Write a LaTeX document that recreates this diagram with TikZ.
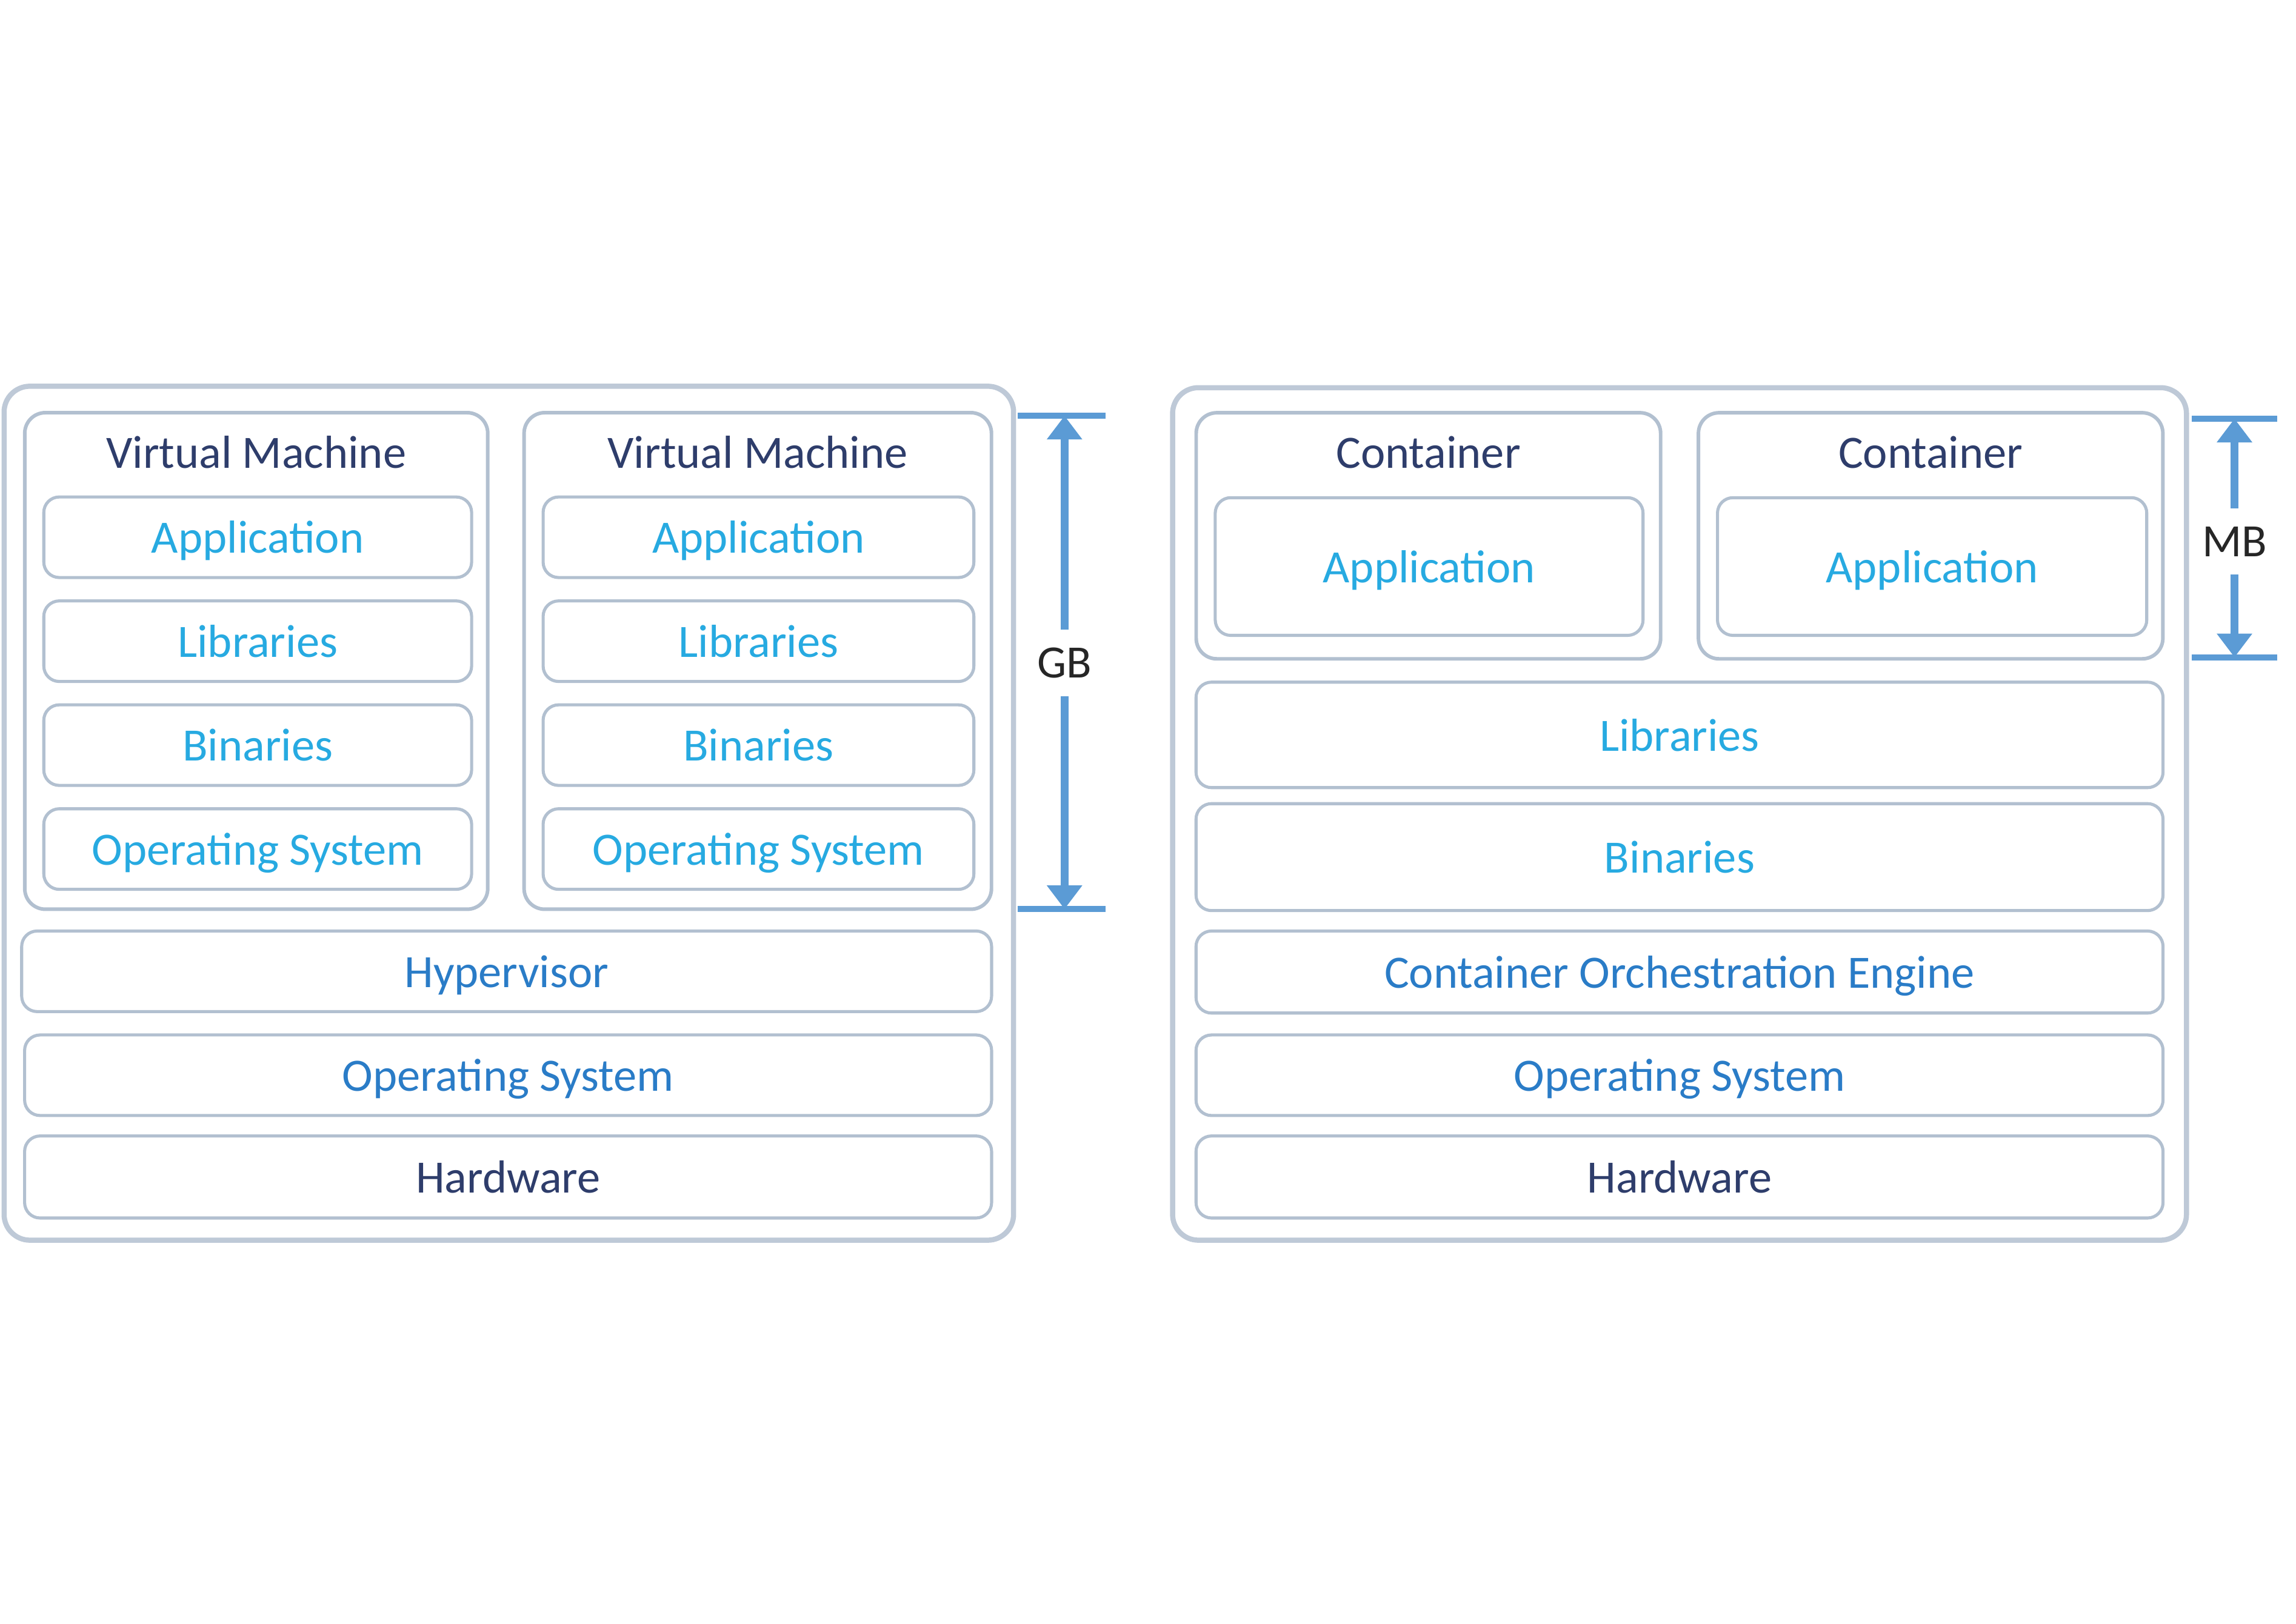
\documentclass[tikz,border=0pt]{standalone}
\usepackage{fontspec}
\setmainfont{Carlito}
\usepackage{xcolor}
\usepackage{tikz}
\usetikzlibrary{arrows.meta,positioning}

\begin{document}
\begin{tikzpicture}[x=0.01cm,y=-0.01cm,font=\fontsize{9}{11}\selectfont,
  frame/.style={draw=frame,line width=1pt,rounded corners=5pt,inner sep=0pt},
  stack/.style={draw=edge,line width=0.7pt,rounded corners=4pt,inner sep=0pt},
  layer/.style={draw=edge,line width=0.6pt,rounded corners=3pt,inner sep=0pt,
    minimum height=0.55cm,text height=7pt,text depth=0.8pt},
  title/.style={text=navy},
  bar/.style={draw=dimblue,line width=1.2pt},
  dim/.style={draw=dimblue,line width=1.5pt,-{Triangle[width=6.6pt,length=4.6pt]}}]
  \definecolor{edge}{HTML}{B2C0D0}
  \definecolor{navy}{HTML}{2E3D6B}
  \definecolor{light}{HTML}{27AAE1}
  \definecolor{mid}{HTML}{2A7CC7}
  \definecolor{dimblue}{HTML}{5B9BD5}
  \colorlet{frame}{edge!85}
  \useasboundingbox (0,0) rectangle (1568,1109);

  % virtual machines
  \node[frame,minimum width=6.89cm,minimum height=5.83cm] (vmhost) at (347.5,555.5) {};
  \node[stack,minimum width=3.16cm,minimum height=3.39cm] (vma) at (175,451.5) {};
  \node[stack,minimum width=3.19cm,minimum height=3.39cm] (vmb) at (517.5,451.5) {};
  \node[title] (vmatitle) at (175,309) {Virtual Machine};
  \node[title] (vmbtitle) at (517.5,309) {Virtual Machine};
  \foreach \txt/\y/\n in {Application/367/app,Libraries/438/lib,Binaries/509/bin,Operating System/580/os}{
      \node[layer,text=light,minimum width=2.92cm] (vma\n) at (176,\y) {\txt};
      \node[layer,text=light,minimum width=2.94cm] (vmb\n) at (518,\y) {\txt};
    }
  \node[layer,text=mid,minimum width=6.62cm] (hyper) at (346,663.5) {Hypervisor};
  \node[layer,text=mid,minimum width=6.60cm] (vmos) at (347,734.5) {Operating System};
  \node[layer,text=navy,minimum width=6.60cm,minimum height=0.56cm] (vmhw) at (347,804) {Hardware};

  % containers
  \node[frame,minimum width=6.92cm,minimum height=5.82cm] (cthost) at (1147,556) {};
  \node[stack,minimum width=3.17cm,minimum height=1.68cm] (cta) at (975.5,366) {};
  \node[stack,minimum width=3.17cm,minimum height=1.68cm] (ctb) at (1318.5,366) {};
  \node[title] (ctatitle) at (975.5,309) {Container};
  \node[title] (ctbtitle) at (1318.5,309) {Container};
  \node[layer,text=light,minimum width=2.92cm,minimum height=0.94cm] (ctaapp) at (976,387) {Application};
  \node[layer,text=light,minimum width=2.93cm,minimum height=0.94cm] (ctbapp) at (1319.5,387) {Application};
  \node[layer,text=light,minimum width=6.60cm,minimum height=0.72cm] (ctlib) at (1147,502) {Libraries};
  \node[layer,text=light,minimum width=6.60cm,minimum height=0.73cm] (ctbin) at (1147,585.5) {Binaries};
  \node[layer,text=mid,minimum width=6.60cm,minimum height=0.56cm] (engine) at (1147,664) {Container Orchestration Engine};
  \node[layer,text=mid,minimum width=6.60cm] (ctos) at (1147,734.5) {Operating System};
  \node[layer,text=navy,minimum width=6.60cm,minimum height=0.56cm] (cthw) at (1147,804) {Hardware};

  % size markers
  \coordinate (gbtop) at (727,284);
  \coordinate (gbbot) at (727,621);
  \draw[bar] (695,284) -- (755,284);
  \draw[bar] (695,621) -- (755,621);
  \node[text=black!85] (gb) at (727,453) {GB};
  \draw[dim] (gb) -- (gbtop);
  \draw[dim] (gb) -- (gbbot);

  \coordinate (mbtop) at (1526,286);
  \coordinate (mbbot) at (1526,449);
  \draw[bar] (1497,286) -- (1555,286);
  \draw[bar] (1497,449) -- (1555,449);
  \node[text=black!85] (mb) at (1526,370) {MB};
  \draw[dim] (mb) -- (mbtop);
  \draw[dim] (mb) -- (mbbot);
\end{tikzpicture}
\end{document}
